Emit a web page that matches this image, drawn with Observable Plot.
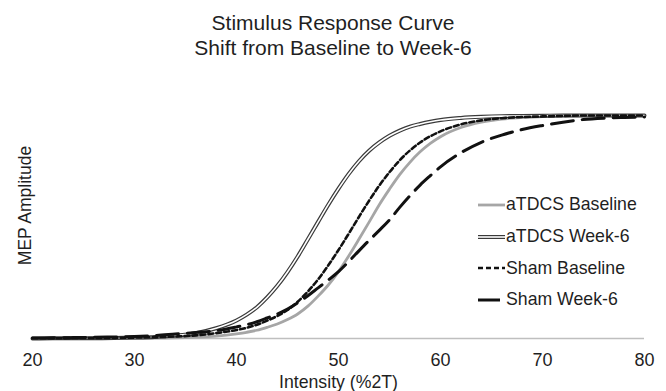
<!DOCTYPE html>
<html>
<head>
<meta charset="utf-8">
<script src="https://cdn.jsdelivr.net/npm/d3@7"></script>
<script src="https://cdn.jsdelivr.net/npm/@observablehq/plot@0.6"></script>
<style>
  html, body { margin: 0; padding: 0; background: #fff; }
  #wrap { position: relative; width: 666px; height: 391px; overflow: hidden; font-family: "Liberation Sans", Arial, sans-serif; color: #1f1f1f; }
  #title { position: absolute; left: 0; top: 10px; width: 666px; text-align: center; font-family: "Liberation Sans", Arial, sans-serif; font-size: 21px; line-height: 25px; z-index: 2; }
  #chart { position: absolute; left: 0; top: 60px; }
  #legend { position: absolute; left: 478px; top: 189px; z-index: 3; }
  .row { height: 31.7px; display: flex; align-items: center; white-space: nowrap; font-size: 17.7px; }
  .row svg { display: block; flex: none; }
  .row span { margin-left: 1px; }
</style>
</head>
<body>
<div id="wrap">
  <div id="title"></div>
  <div id="chart"></div>
  <div id="legend"></div>
</div>
<script>
// ---- data ----
const titleLines = ["Stimulus Response Curve", "Shift from Baseline to Week-6"];
const xLabel = "Intensity (%2T)";
const yLabel = "MEP Amplitude";
const xTicks = [20, 30, 40, 50, 60, 70, 80];
const seriesNames = ["aTDCS Baseline", "aTDCS Week-6", "Sham Baseline", "Sham Week-6"];

const intensity = [20, 22, 24, 26, 28, 30, 32, 34, 36, 38, 40, 41, 42, 43, 44, 45, 46, 47, 48, 49, 50,
  51, 52, 53, 54, 55, 56, 57, 58, 59, 60, 62, 64, 66, 68, 70, 72, 74, 76, 78, 80];

const aTDCSBaseline = [0, 0, 0, 0.001, 0.001, 0.001, 0.002, 0.003, 0.006, 0.011, 0.021, 0.028, 0.037, 0.05, 0.065, 0.085, 0.11, 0.145, 0.19, 0.24, 0.3,
  0.37, 0.445, 0.522, 0.6, 0.67, 0.735, 0.79, 0.837, 0.875, 0.905, 0.946, 0.97, 0.984, 0.991, 0.995, 0.998, 0.999, 1, 1, 1];

const aTDCSWeek6 = [0, 0.001, 0.001, 0.001, 0.002, 0.004, 0.007, 0.013, 0.024, 0.046, 0.081, 0.107, 0.14, 0.184, 0.236, 0.298, 0.368, 0.445, 0.523, 0.6, 0.672,
  0.738, 0.795, 0.842, 0.879, 0.909, 0.932, 0.95, 0.962, 0.972, 0.98, 0.989, 0.994, 0.997, 0.998, 0.999, 1, 1, 1, 1, 1];

const shamBaseline = [0.001, 0.001, 0.002, 0.002, 0.003, 0.004, 0.006, 0.009, 0.014, 0.024, 0.038, 0.048, 0.062, 0.08, 0.101, 0.128, 0.165, 0.211, 0.265, 0.328, 0.397,
  0.47, 0.545, 0.618, 0.686, 0.746, 0.799, 0.843, 0.879, 0.907, 0.929, 0.96, 0.978, 0.988, 0.993, 0.996, 0.998, 1, 1, 1, 1];

const shamWeek6 = [0.002, 0.003, 0.004, 0.005, 0.007, 0.009, 0.013, 0.02, 0.027, 0.035, 0.052, 0.062, 0.075, 0.092, 0.11, 0.132, 0.16, 0.192, 0.227, 0.262, 0.3,
  0.345, 0.393, 0.44, 0.485, 0.532, 0.588, 0.64, 0.688, 0.73, 0.77, 0.833, 0.88, 0.912, 0.937, 0.955, 0.97, 0.982, 0.988, 0.991, 0.993];

// ---- build ----
const rows = (vals) => intensity.map((x, i) => ({x, y: vals[i]}));
const dAB = rows(aTDCSBaseline), dAW = rows(aTDCSWeek6), dSB = rows(shamBaseline), dSW = rows(shamWeek6);

const styles = [
  {stroke: "#a6a6a6", strokeWidth: 2.8},
  {stroke: "#3a3a3a", strokeWidth: 4, inner: {stroke: "#fff", strokeWidth: 1.6}},
  {stroke: "#111", strokeWidth: 2.6, strokeDasharray: "5,3"},
  {stroke: "#111", strokeWidth: 3, strokeDasharray: "22,9"}
];

document.getElementById("title").innerHTML = titleLines.map(t => `<div>${t}</div>`).join("");

const chart = Plot.plot({
  width: 666,
  height: 331,
  marginLeft: 32,
  marginRight: 22,
  marginTop: 55,
  marginBottom: 53,
  x: {domain: [20, 80]},
  y: {domain: [0, 1], axis: null},
  style: {fontFamily: '"Liberation Sans", Arial, sans-serif', color: "#1f1f1f", background: "transparent", overflow: "visible"},
  marks: [
    Plot.ruleY([0], {stroke: "#bfbfbf", strokeWidth: 1.3}),
    Plot.axisX({ticks: xTicks, tickSize: 0, tickPadding: 15, label: null, fontSize: 18, tickFormat: d => String(d)}),
    Plot.text([xLabel], {text: d => d, frameAnchor: "bottom", dy: 44, lineAnchor: "middle", textAnchor: "middle", fontSize: 17.7}),
    Plot.text([yLabel], {text: d => d, frameAnchor: "left", rotate: -90, dx: -7, dy: -21.5, lineAnchor: "middle", textAnchor: "middle", fontSize: 17.5}),
    Plot.lineY(dAB, {x: "x", y: "y", curve: "monotone-x", ...styles[0]}),
    Plot.lineY(dAW, {x: "x", y: "y", curve: "monotone-x", stroke: styles[1].stroke, strokeWidth: styles[1].strokeWidth}),
    Plot.lineY(dAW, {x: "x", y: "y", curve: "monotone-x", ...styles[1].inner}),
    Plot.lineY(dSB, {x: "x", y: "y", curve: "monotone-x", ...styles[2]}),
    Plot.lineY(dSW, {x: "x", y: "y", curve: "monotone-x", ...styles[3]})
  ]
});
document.getElementById("chart").appendChild(chart);

// legend
const legend = document.getElementById("legend");
seriesNames.forEach((name, i) => {
  const s = styles[i];
  const row = document.createElement("div");
  row.className = "row";
  let lines = `<line x1="0" y1="6" x2="27" y2="6" stroke="${s.stroke}" stroke-width="${s.strokeWidth}" ${s.strokeDasharray ? `stroke-dasharray="${s.strokeDasharray}"` : ""}/>`;
  if (s.inner) lines += `<line x1="0" y1="6" x2="27" y2="6" stroke="${s.inner.stroke}" stroke-width="${s.inner.strokeWidth}"/>`;
  row.innerHTML = `<svg width="27" height="12">${lines}</svg><span>${name}</span>`;
  legend.appendChild(row);
});
</script>
</body>
</html>
